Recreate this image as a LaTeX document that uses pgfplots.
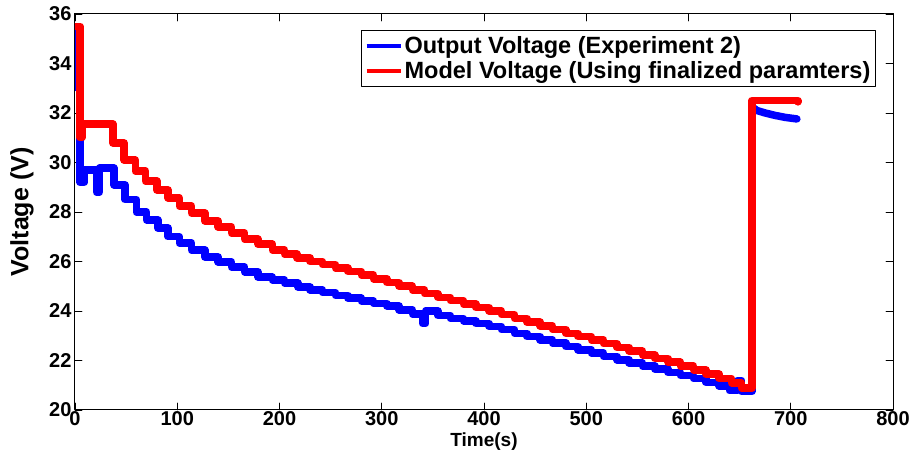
\documentclass[border=0pt]{standalone}
\usepackage{pgfplots}
\pgfplotsset{compat=1.18}
\usepackage{fontspec}
\setmainfont{Liberation Sans}
\begin{document}
\begin{tikzpicture}
\begin{axis}[
  scale only axis,
  width=818pt, height=396pt,
  xmin=0, xmax=800, ymin=20, ymax=36,
  xtick={0,100,...,800}, ytick={20,22,...,36},
  tick align=inside, major tick length=7pt,
  tick style={black, line width=0.6pt},
  axis line style={black, line width=1pt},
  /pgf/number format/assume math mode=true,
  ticklabel style={font=\fontsize{20}{22}\selectfont\bfseries},
  xticklabel style={yshift=1.5pt},
  xlabel={Time(s)}, ylabel={Voltage (V)},
  xlabel style={font=\fontsize{19}{21}\selectfont\bfseries, at={(axis description cs:0.5,-0.079)}, anchor=center},
  ylabel style={font=\fontsize{25}{28}\selectfont\bfseries, at={(axis description cs:-0.0648,0.5)}, anchor=center, rotate=0},
  legend style={at={(axis description cs:0.979,0.96)}, anchor=north east,
    font=\fontsize{23.5}{26}\selectfont\bfseries, draw=black, line width=1pt,
    inner xsep=3pt, inner ysep=4pt, row sep=3pt, cells={anchor=west}},
  legend image code/.code={\draw[#1, line width=4pt, line cap=butt] (0pt,0pt) -- (34pt,0pt);},
  line join=round, line cap=round,
]
\addplot[blue, line width=7.5pt, const plot] coordinates {
(0,35.4)(3,33.0)(5,29.2)(9,29.7)(21,28.8)(24,29.78)(38,29.1)(49,28.5)(60,28.0)
(70,27.68)(81,27.35)(91,27.0)(102,26.75)(114,26.46)(127,26.18)(140,25.98)
(153,25.78)(166,25.58)(179,25.37)(193,25.25)(205,25.13)(218,24.97)(230,24.85)
(242,24.74)(255,24.63)(267,24.52)(280,24.41)(292,24.3)(305,24.2)(317,24.05)
(330,23.88)(340,23.5)(343,24.0)(355,23.82)(367,23.7)(380,23.6)(392,23.5)
(405,23.38)(417,23.25)(430,23.1)(442,22.97)(455,22.83)(467,22.7)(480,22.56)
(492,22.43)(505,22.3)(517,22.17)(530,22.03)(542,21.9)(555,21.78)(567,21.65)
(580,21.52)(592,21.4)(605,21.27)(617,21.12)(630,20.97)(640,20.78)(648,21.2)
(652,20.75)(662,32.25)
};
\addlegendentry{Output Voltage (Experiment 2)}
\addplot[blue, line width=7.5pt, forget plot] coordinates {
(662,32.25)(667,32.1)(675,32.0)(685,31.9)(695,31.82)(706,31.76)
};
\addplot[red, line width=7.5pt, const plot] coordinates {
(0,35.5)(5,31.0)(7,31.56)(37,30.79)(48,30.1)(59,29.66)(69,29.25)(80,28.89)
(91,28.57)(102,28.24)(114,27.96)(127,27.64)(140,27.4)(153,27.15)(166,26.9)
(179,26.7)(193,26.46)(205,26.3)(217,26.15)(230,26.0)(242,25.87)(255,25.73)
(267,25.6)(280,25.45)(292,25.3)(305,25.15)(317,25.0)(330,24.85)(342,24.7)
(355,24.55)(367,24.42)(380,24.28)(392,24.14)(405,24.0)(417,23.85)(430,23.7)
(442,23.55)(455,23.4)(467,23.25)(480,23.1)(492,22.97)(505,22.83)(517,22.68)
(530,22.53)(542,22.38)(555,22.23)(567,22.08)(580,21.93)(592,21.78)(605,21.62)
(617,21.45)(630,21.28)(642,21.1)(652,20.88)(662,32.5)(707,32.45)
};
\addlegendentry{Model Voltage (Using finalized paramters)}
\end{axis}
\pgfresetboundingbox
\path[use as bounding box] (-75pt,-47pt) rectangle (840pt,410pt);
\end{tikzpicture}
\end{document}
